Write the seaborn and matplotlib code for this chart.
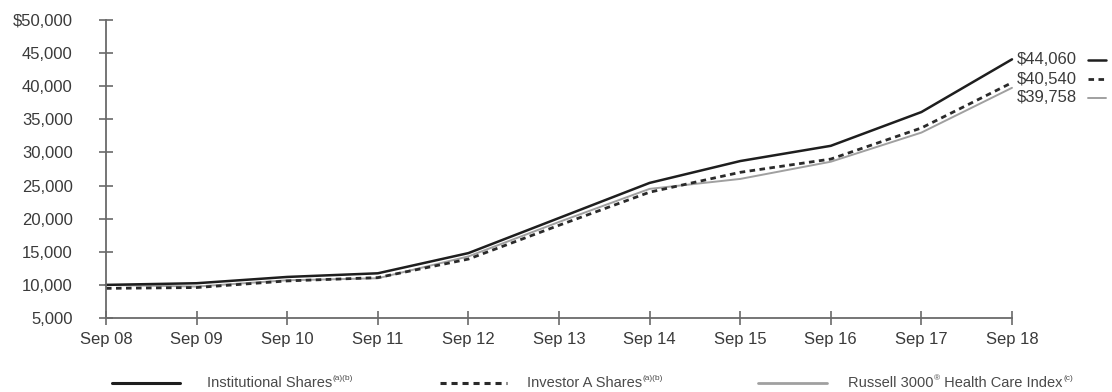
import matplotlib
matplotlib.use("Agg")
import matplotlib.pyplot as plt
from matplotlib.lines import Line2D
import seaborn as sns
import pandas as pd

# Growth of a $10,000 investment, fiscal years ending September
years = ["Sep 08", "Sep 09", "Sep 10", "Sep 11", "Sep 12", "Sep 13",
         "Sep 14", "Sep 15", "Sep 16", "Sep 17", "Sep 18"]
institutional = [10000, 10250, 11200, 11750, 14800, 20100,
                 25400, 28700, 31000, 36100, 44060]
investor_a = [9475, 9600, 10600, 11100, 13900, 19000,
              24000, 27000, 29000, 33700, 40540]
russell = [10000, 9750, 10700, 11000, 14300, 19500,
           24500, 26000, 28600, 33000, 39758]
y_ticks = [5000, 10000, 15000, 20000, 25000, 30000, 35000, 40000, 45000, 50000]
y_labels = ["5,000", "10,000", "15,000", "20,000", "25,000", "30,000",
            "35,000", "40,000", "45,000", "$50,000"]
end_labels = ["$44,060", "$40,540", "$39,758"]
# Legend labels as (text, superscript) pieces
legend_labels = [
    [("Institutional Shares", False), ("(a)(b)", True)],
    [("Investor A Shares", False), ("(a)(b)", True)],
    [("Russell 3000", False), ("®", True), (" Health Care Index", False), ("(c)", True)],
]

sns.set_style("white")
plt.rcParams["font.family"] = ["Liberation Sans", "DejaVu Sans"]

text_color = "#3a3a3a"
legend_text_color = "#4a4a4a"
axis_color = "#6a6a6a"
dash = (2.0, 1.6)

fig = plt.figure(figsize=(11.12, 3.92), dpi=100)
ax = fig.add_axes([106 / 1112, 1 - 318 / 392, (1012 - 106) / 1112, (318 - 20) / 392])

x = list(range(len(years)))
df = pd.DataFrame({"x": x, "inst": institutional, "inv": investor_a, "idx": russell})

styles = [
    ("idx", dict(color="#a0a0a0", linewidth=1.4)),
    ("inv", dict(color="#2a2a2a", linewidth=2.0, dashes=dash)),
    ("inst", dict(color="#1e1e1e", linewidth=1.8)),
]
for col, kw in styles:
    sns.lineplot(data=df, x="x", y=col, ax=ax, clip_on=False, **kw)

ax.set_xlim(0, 10)
ax.set_ylim(5000, 50000)
ax.set_xticks(x)
ax.set_xticklabels(years)
ax.set_yticks(y_ticks)
ax.set_yticklabels(y_labels)
ax.set_xlabel("")
ax.set_ylabel("")

for side in ("top", "right"):
    ax.spines[side].set_visible(False)
for side in ("left", "bottom"):
    ax.spines[side].set_color(axis_color)
    ax.spines[side].set_linewidth(1.3)
ax.tick_params(axis="both", direction="inout", length=10, width=1.2,
               color=axis_color, labelcolor=text_color, labelsize=12,
               bottom=True, left=True)
ax.tick_params(axis="x", pad=5)
ax.tick_params(axis="y", pad=19)

# Ending values beside the last points, with line samples
px = lambda v: v / 1112
py = lambda v: 1 - v / 392
end_rows = [60, 79, 98]
end_styles = [dict(color="#1e1e1e", linewidth=1.8),
              dict(color="#2a2a2a", linewidth=2.0, linestyle=(0, dash)),
              dict(color="#a0a0a0", linewidth=1.4)]
for lab, row, st in zip(end_labels, end_rows, end_styles):
    fig.text(px(1017), py(row), lab, ha="left", va="center",
             fontsize=12, color=text_color)
    fig.add_artist(Line2D([px(1088), px(1106)], [py(row), py(row)], **st))

# Legend row along the bottom, with small superscript notes
renderer = fig.canvas.get_renderer()
leg_y = 383
leg_items = [(112, 180, 207), (440, 507, 527), (758, 827, 848)]
leg_styles = [dict(color="#1e1e1e", linewidth=2.2),
              dict(color="#2a2a2a", linewidth=2.2, linestyle=(0, dash)),
              dict(color="#a0a0a0", linewidth=2.0)]
for (x0, x1, tx), pieces, st in zip(leg_items, legend_labels, leg_styles):
    fig.add_artist(Line2D([px(x0), px(x1)], [py(leg_y), py(leg_y)], **st))
    cursor = tx
    for text, sup in pieces:
        if sup:
            t = fig.text(px(cursor + 0.5), py(leg_y - 4), text, ha="left", va="center",
                         fontsize=6, color=legend_text_color)
        else:
            t = fig.text(px(cursor), py(leg_y), text, ha="left", va="center",
                         fontsize=10.5, color=legend_text_color)
        cursor = t.get_window_extent(renderer).x1

fig.savefig("out.png", dpi=100)
